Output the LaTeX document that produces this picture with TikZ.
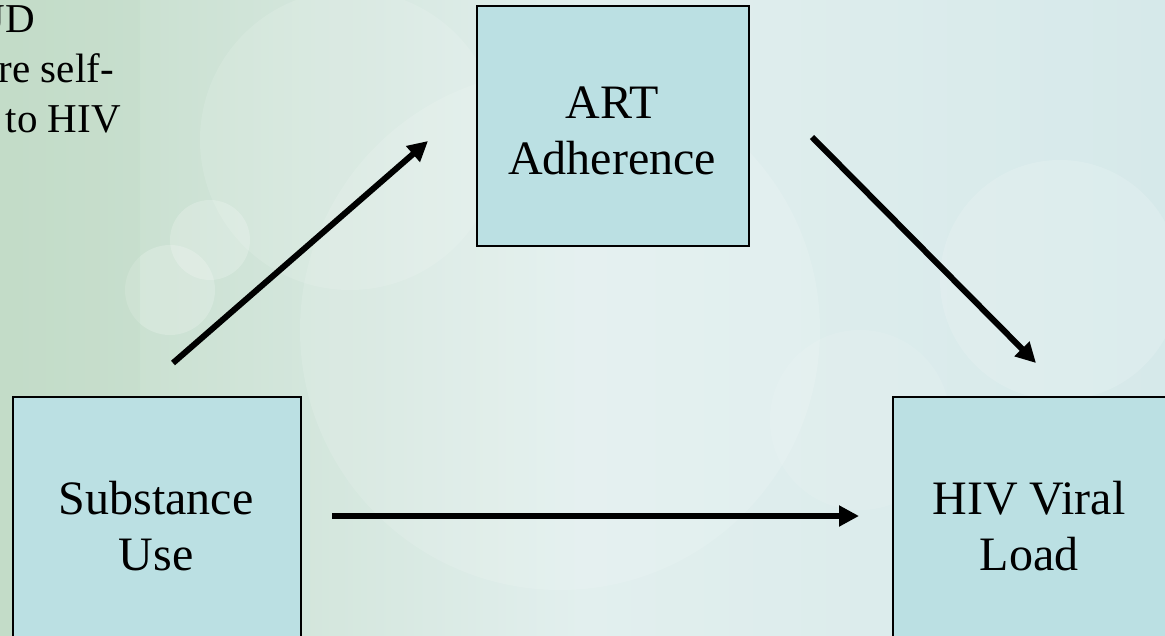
\documentclass[tikz,border=0pt]{standalone}
\usepackage{fontspec}
\setmainfont{Liberation Serif}
\usetikzlibrary{arrows.meta}
\definecolor{boxfill}{HTML}{BBE0E3}
\definecolor{bgleft}{HTML}{C3DCC8}
\definecolor{bgmid}{HTML}{E2EFEE}
\definecolor{bgright}{HTML}{D6E9EA}
\tikzset{
  box/.style={draw=black, line width=1.5pt, fill=boxfill, inner sep=0pt},
  lbl/.style={font=\fontsize{48}{56}\selectfont, align=center},
  arr/.style={line width=6pt, -{Triangle[length=20pt,width=20pt]}},
  side/.style={font=\fontsize{41}{50}\selectfont, anchor=base east, inner sep=0pt}
}
\begin{document}
\begin{tikzpicture}[x=1pt,y=-1pt]
\useasboundingbox (0,0) rectangle (1165,635);
\begin{scope}
\clip (0,0) rectangle (1165,635);
\shade[left color=bgleft, right color=bgright, middle color=bgmid] (0,0) rectangle (1165,635);
\fill[white, opacity=0.12] (560,330) circle (260);
\fill[white, opacity=0.12] (350,140) circle (150);
\fill[white, opacity=0.15] (1060,280) circle (120);
\fill[white, opacity=0.2] (170,290) circle (45);
\fill[white, opacity=0.2] (210,240) circle (40);
\fill[white, opacity=0.1] (860,420) circle (90);
\fill[bgleft, opacity=0.35] (0,0) rectangle (140,635);
% boxes
\node[box, minimum width=272, minimum height=240, anchor=north west] (art) at (476,5) {};
\node[box, minimum width=288, minimum height=280, anchor=north west] (sub) at (12,396) {};
\node[box, minimum width=300, minimum height=280, anchor=north west] (hiv) at (892,396) {};
\node[lbl] (artt) at (612,131) {ART\\Adherence};
\node[lbl] (subt) at (156,526) {Substance\\Use};
\node[lbl] (hivt) at (1029,526) {HIV Viral\\Load};
% side text
\node[side] (t1) at (35,32) {UD};
\node[side] (t2) at (114,82) {re self-};
\node[side] (t3) at (121,132) {to HIV};
% arrows
\coordinate (a1) at (173,363);
\coordinate (a2) at (428,141);
\coordinate (b1) at (812,137);
\coordinate (b2) at (1036,363);
\coordinate (c1) at (332,516);
\coordinate (c2) at (859,516);
\draw[arr] (a1) -- (a2);
\draw[arr] (b1) -- (b2);
\draw[arr] (c1) -- (c2);
\end{scope}
\end{tikzpicture}
\end{document}
